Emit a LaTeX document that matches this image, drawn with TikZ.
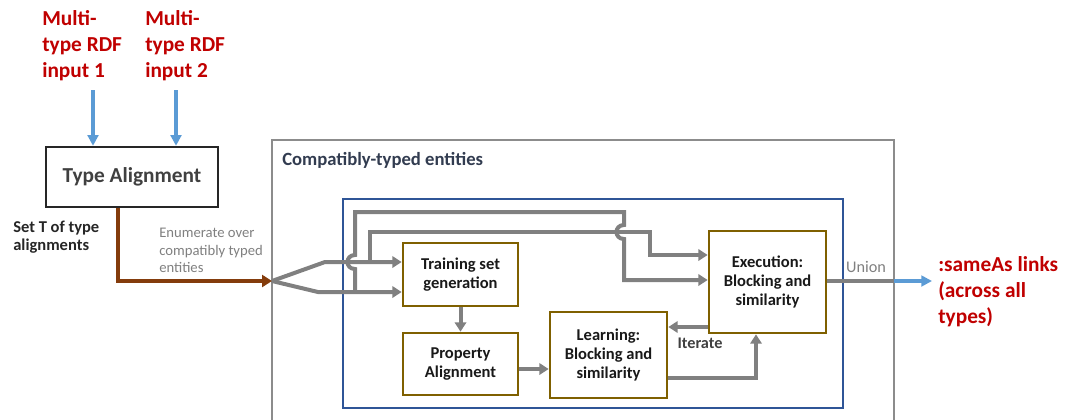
\documentclass[tikz,border=0pt]{standalone}
\usepackage{fontspec}
\setmainfont{Carlito}
\usetikzlibrary{arrows.meta}
\definecolor{redtxt}{RGB}{192,0,0}
\definecolor{bluearr}{RGB}{91,155,213}
\definecolor{graycon}{RGB}{128,128,128}
\definecolor{brownarr}{RGB}{132,60,12}
\definecolor{goldbox}{RGB}{127,96,0}
\definecolor{bluebox}{RGB}{47,85,151}
\definecolor{outergray}{RGB}{140,140,140}
\definecolor{slate}{RGB}{50,60,80}
\definecolor{dgray}{RGB}{64,64,64}
\begin{document}
\begin{tikzpicture}[x=0.75pt,y=-0.75pt,
  redlabel/.style={anchor=north west, inner sep=0pt, align=left, text=redtxt, font=\fontsize{16}{19.5}\selectfont\bfseries},
  procbox/.style={draw=goldbox, line width=2pt, fill=white, align=center, font=\fontsize{12.4}{14}\selectfont\bfseries, text=black!90, inner sep=0pt},
  conn/.style={draw=graycon, line width=3pt},
  garrow/.style={conn, -{Triangle[length=7pt,width=8.5pt]}},
  barrow/.style={draw=bluearr, line width=2.4pt, -{Triangle[length=8pt,width=8pt]}},
  brarrow/.style={draw=brownarr, line width=2.8pt, -{Triangle[length=7.5pt,width=9pt]}},
  plain/.style={anchor=north west, inner sep=0pt, align=left}
]
\useasboundingbox (0,0) rectangle (1069,419);
% containers
\draw[draw=outergray, line width=2pt] (272,425) -- (272,140) -- (894,140) -- (894,425);
\draw[draw=bluebox, line width=2pt] (343,199) rectangle (843,408);

% labels
\node[redlabel] (in1) at (42,10) {Multi-\\type RDF\\input 1};
\node[redlabel] (in2) at (145,10) {Multi-\\type RDF\\input 2};
\node[draw=black!85, line width=1.8pt, minimum width=129pt, minimum height=45pt, inner sep=0pt, font=\fontsize{16}{19}\selectfont\bfseries, text=dgray] (TA) at (132,177) {Type Alignment};
\node[plain, font=\fontsize{12.4}{13.5}\selectfont\bfseries, text=black!85] (setT) at (13,221) {Set T of type\\alignments};
\node[plain, font=\fontsize{11}{13}\selectfont, text=graycon] (enum) at (159,228) {Enumerate over\\compatibly typed\\entities};
\node[plain, font=\fontsize{14}{16}\selectfont\bfseries, text=slate] (cte) at (282,152) {Compatibly-typed entities};

% process boxes
\node[procbox, minimum width=86.25pt, minimum height=47.25pt] (TS) at (460.5,274.5) {Training set\\generation};
\node[procbox, minimum width=86.25pt, minimum height=46.5pt] (PA) at (460.5,364) {Property\\Alignment};
\node[procbox, minimum width=87.75pt, minimum height=64.5pt] (LE) at (608.5,355) {Learning:\\Blocking and\\similarity};
\node[procbox, minimum width=87.75pt, minimum height=76.5pt] (EX) at (767.5,282) {Execution:\\Blocking and\\similarity};

\node[anchor=base, inner sep=0pt, font=\fontsize{12.2}{14}\selectfont\bfseries, text=dgray] (it) at (700,348) {Iterate};
\node[anchor=base, inner sep=0pt, font=\fontsize{12.2}{14}\selectfont, text=graycon] (un) at (866,272) {Union};
\node[redlabel] (sa) at (938,256) {:sameAs links\\(across all\\types)};

% coordinates
\coordinate (a1) at (93,90);
\coordinate (a2) at (176,90);
\coordinate (bx) at (118,0);
\coordinate (fork) at (272,281);
\coordinate (u1) at (325,262);
\coordinate (l1) at (318,292);
\coordinate (k1) at (370,262);
\coordinate (k2) at (650,232);
\coordinate (k3) at (650,255);
\coordinate (j1) at (355,292);
\coordinate (j3) at (624,280);
\coordinate (p1) at (0,369);
\coordinate (q1) at (756,378);
\coordinate (r1) at (0,327);
\coordinate (u0) at (894,281);

% connectors
\draw[barrow] (a1) -- (a1 |- TA.north);
\draw[barrow] (a2) -- (a2 |- TA.north);
\draw[brarrow] (TA.south -| bx) |- (fork);
\draw[garrow] (fork) -- (u1) -- (u1 -| TS.west);
\draw[garrow] (fork) -- (l1) -- (l1 -| TS.west);
\draw[garrow] (k1) |- (k2) -- (k3) -- (EX.west |- k3);
\draw[garrow] (j1) -- (355,269) .. controls (345,269) and (345,255) .. (355,255)
  -- (355,212) -- (624,212) -- (624,225) .. controls (614,225) and (614,239) .. (624,239)
  -- (j3) -- (EX.west |- j3);
\draw[garrow] (TS.south) -- (PA.north);
\draw[garrow] (PA.east |- p1) -- (LE.west |- p1);
\draw[garrow] (LE.east |- q1) -| (EX.south -| q1);
\draw[garrow] (EX.west |- r1) -- (LE.east |- r1);
\draw[conn] (EX.east |- u0) -- (u0);
\draw[barrow, shorten >=4.5pt] (u0) -- (sa.west |- u0);
\end{tikzpicture}
\end{document}
